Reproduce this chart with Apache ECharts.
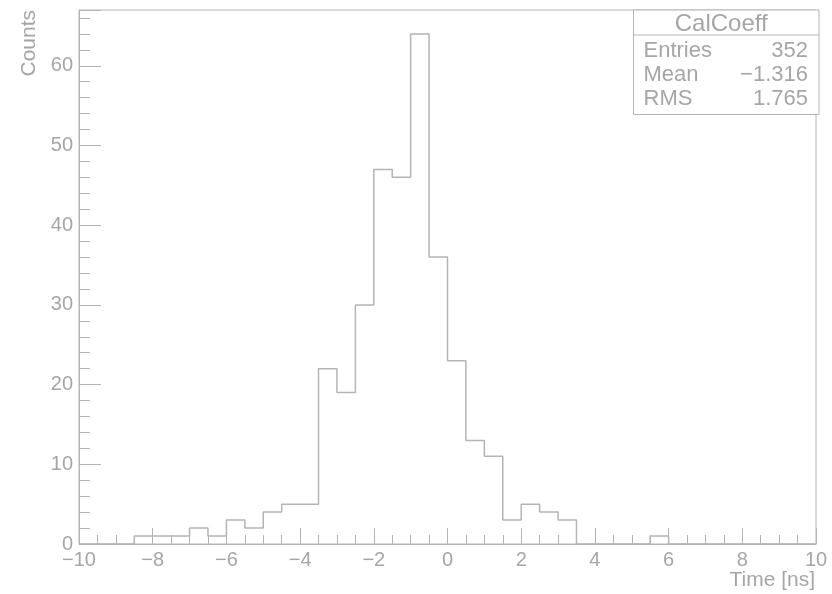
<!DOCTYPE html>
<html>
<head>
<meta charset="utf-8">
<script src="https://cdn.jsdelivr.net/npm/echarts@6/dist/echarts.min.js"></script>
<style>
  html, body { margin: 0; padding: 0; background: #ffffff; }
  #chart { width: 832px; height: 594px; }
</style>
</head>
<body>
<div id="chart"></div>
<script>
// Histogram "CalCoeff": 40 bins of 0.5 ns between -10 and 10 ns
const binLowEdges = [];
for (let i = 0; i < 40; i++) binLowEdges.push(-10 + i * 0.5);
const binCounts = [
  0, 0, 0, 1, 1, 1, 2, 1, 3, 2,
  4, 5, 5, 22, 19, 30, 47, 46, 64, 36,
  23, 13, 11, 3, 5, 4, 3, 0, 0, 0,
  0, 1, 0, 0, 0, 0, 0, 0, 0, 0
];
const xRange = [-10, 10];
const yRange = [0, 67];
const xTitle = 'Time [ns]';
const yTitle = 'Counts';

// Statistics box contents
const statsTitle = 'CalCoeff';
const statsNames = ['Entries', 'Mean', 'RMS'];
const statsValues = ['352', '\u22121.316', '1.765'];

const lineColor = '#b4b4b4';
const textColor = '#a6a6a6';
const fontFamily = '"Liberation Sans", Arial, Helvetica, sans-serif';

// Step outline: each bin's low edge with its count, closed at the upper range limit
const stepData = binLowEdges.map((x, i) => [x, binCounts[i]]);
stepData.push([xRange[1], binCounts[binCounts.length - 1]]);

const fmtNum = v => (v < 0 ? '\u2212' + Math.abs(v) : String(v));

const chart = echarts.init(document.getElementById('chart'), null, { renderer: 'canvas' });

const gridLeft = 79, gridRight = 16, gridTop = 10, gridBottom = 50;
const boxX = 631, boxY = 9.5, boxW = 816.5 - 631, boxH = 114 - 9.5;

chart.setOption({
  animation: false,
  backgroundColor: '#ffffff',
  grid: {
    left: gridLeft, right: gridRight, top: gridTop, bottom: gridBottom,
    containLabel: false,
    outerBoundsMode: 'none',
    show: true, borderColor: lineColor, borderWidth: 1, backgroundColor: 'transparent'
  },
  xAxis: {
    type: 'value',
    min: xRange[0], max: xRange[1], interval: 2,
    axisLine: { show: true, onZero: false, lineStyle: { color: lineColor, width: 1 } },
    axisTick: { show: true, inside: true, length: 16, lineStyle: { color: lineColor, width: 1 } },
    minorTick: { show: true, splitNumber: 4, length: 9, lineStyle: { color: lineColor, width: 1 } },
    axisLabel: {
      color: textColor, fontSize: 20, fontFamily: fontFamily, margin: 6,
      formatter: fmtNum
    },
    splitLine: { show: false },
    minorSplitLine: { show: false }
  },
  yAxis: [
    {
      type: 'value',
      min: yRange[0], max: yRange[1], interval: 10,
      name: yTitle,
      nameLocation: 'end',
      nameGap: 0,
      nameRotate: 90,
      nameTextStyle: {
        color: textColor, fontSize: 21, fontFamily: fontFamily,
        align: 'right', verticalAlign: 'bottom', padding: [0, 0, 39, 0]
      },
      axisLine: { show: true, onZero: false, lineStyle: { color: lineColor, width: 1 } },
      axisTick: { show: true, inside: true, length: 22, lineStyle: { color: lineColor, width: 1 } },
      axisLabel: {
        color: textColor, fontSize: 20, fontFamily: fontFamily, margin: 6,
        formatter: v => (v % 10 === 0 ? fmtNum(v) : '')
      },
      splitLine: { show: false }
    },
    {
      // secondary scale carrying the short ticks every 2 counts
      type: 'value',
      position: 'left',
      min: yRange[0], max: yRange[1], interval: 2,
      axisLine: { show: false, onZero: false },
      axisTick: { show: true, inside: true, length: 11, lineStyle: { color: lineColor, width: 1 } },
      axisLabel: { show: false },
      splitLine: { show: false }
    }
  ],
  series: [
    {
      type: 'line',
      yAxisIndex: 0,
      step: 'end',
      data: stepData,
      symbol: 'none',
      lineStyle: { color: lineColor, width: 1.5 },
      silent: true
    }
  ],
  graphic: [
    // x-axis title, right-aligned under the end of the axis
    {
      type: 'text',
      right: gridRight + 1, top: 570,
      style: { text: xTitle, fill: textColor, fontSize: 21, fontFamily: fontFamily }
    },
    {
      type: 'group',
      left: boxX, top: boxY,
      children: [
        { type: 'rect', shape: { x: 0, y: 0, width: boxW, height: boxH },
          style: { fill: '#ffffff', stroke: lineColor, lineWidth: 1 } },
        { type: 'line', shape: { x1: 0, y1: 25, x2: boxW, y2: 25 },
          style: { stroke: lineColor, lineWidth: 1 } },
        { type: 'text', x: boxW / 2 - 5, y: 14,
          style: { text: statsTitle, fill: textColor, fontSize: 24, fontFamily: fontFamily,
                   align: 'center', verticalAlign: 'middle' } }
      ].concat(
        statsNames.map((n, i) => ({
          type: 'text', x: 10, y: 41 + i * 24,
          style: { text: n, fill: textColor, fontSize: 22, fontFamily: fontFamily,
                   align: 'left', verticalAlign: 'middle' }
        })),
        statsValues.map((v, i) => ({
          type: 'text', x: boxW - 11, y: 41 + i * 24,
          style: { text: v, fill: textColor, fontSize: 22, fontFamily: fontFamily,
                   align: 'right', verticalAlign: 'middle' }
        }))
      )
    }
  ]
});
</script>
</body>
</html>
